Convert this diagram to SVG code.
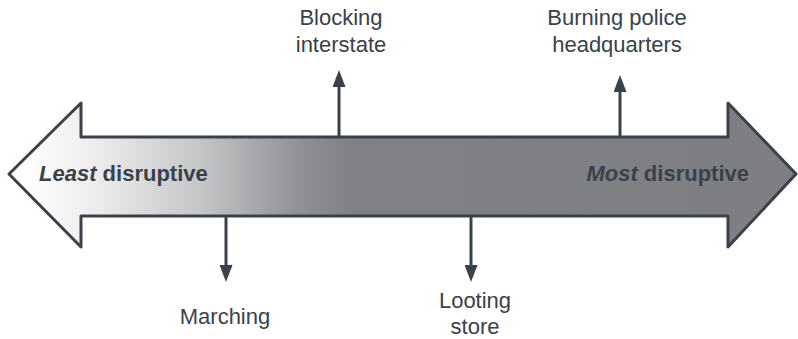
<svg xmlns="http://www.w3.org/2000/svg" width="798" height="339" viewBox="0 0 798 339">
<style>
.t{font-family:"Liberation Sans",Arial,sans-serif;font-size:22px;fill:#3a414a;text-anchor:middle}
.b{font-family:"Liberation Sans",Arial,sans-serif;font-size:22px;fill:#3a414a;font-weight:bold}
.c{stroke:#3a414a;stroke-width:3;fill:none}
</style>
<defs>
<linearGradient id="g" x1="0" y1="0" x2="798" y2="0" gradientUnits="userSpaceOnUse">
<stop offset="0.03" stop-color="#ffffff"/>
<stop offset="0.125" stop-color="#ebebec"/>
<stop offset="0.25" stop-color="#c5c6c7"/>
<stop offset="0.375" stop-color="#909195"/>
<stop offset="0.44" stop-color="#808185"/>
<stop offset="1" stop-color="#7e7f83"/>
</linearGradient>
<marker id="ah" markerWidth="17" markerHeight="13" refX="1" refY="6.5" orient="auto" markerUnits="userSpaceOnUse" viewBox="0 0 17 13">
<path d="M0,0 L17,6.5 L0,13 Z" fill="#3a414a"/>
</marker>
</defs>
<g id="connectors">
<path class="c" d="M339,137 V86" marker-end="url(#ah)"/>
<path class="c" d="M620,137 V91" marker-end="url(#ah)"/>
<path class="c" d="M226,216 V266" marker-end="url(#ah)"/>
<path class="c" d="M471,216 V266" marker-end="url(#ah)"/>
</g>
<g id="scale-arrow">
<path d="M9,174 L81,103 V137 H728 V103 L796,174 L728,247 V216 H81 V247 Z" fill="url(#g)" stroke="#3a414a" stroke-width="3" stroke-linejoin="round"/>
<text class="b" x="39" y="181"><tspan font-style="italic">Least</tspan> disruptive</text>
<text class="b" x="749" y="181" text-anchor="end"><tspan font-style="italic">Most</tspan> disruptive</text>
</g>
<g id="node-blocking">
<text class="t" x="341" y="25">Blocking</text>
<text class="t" x="341" y="52">interstate</text>
</g>
<g id="node-burning">
<text class="t" x="617" y="25">Burning police</text>
<text class="t" x="617" y="52">headquarters</text>
</g>
<g id="node-marching">
<text class="t" x="225" y="324">Marching</text>
</g>
<g id="node-looting">
<text class="t" x="475" y="308">Looting</text>
<text class="t" x="475" y="334">store</text>
</g>
</svg>
